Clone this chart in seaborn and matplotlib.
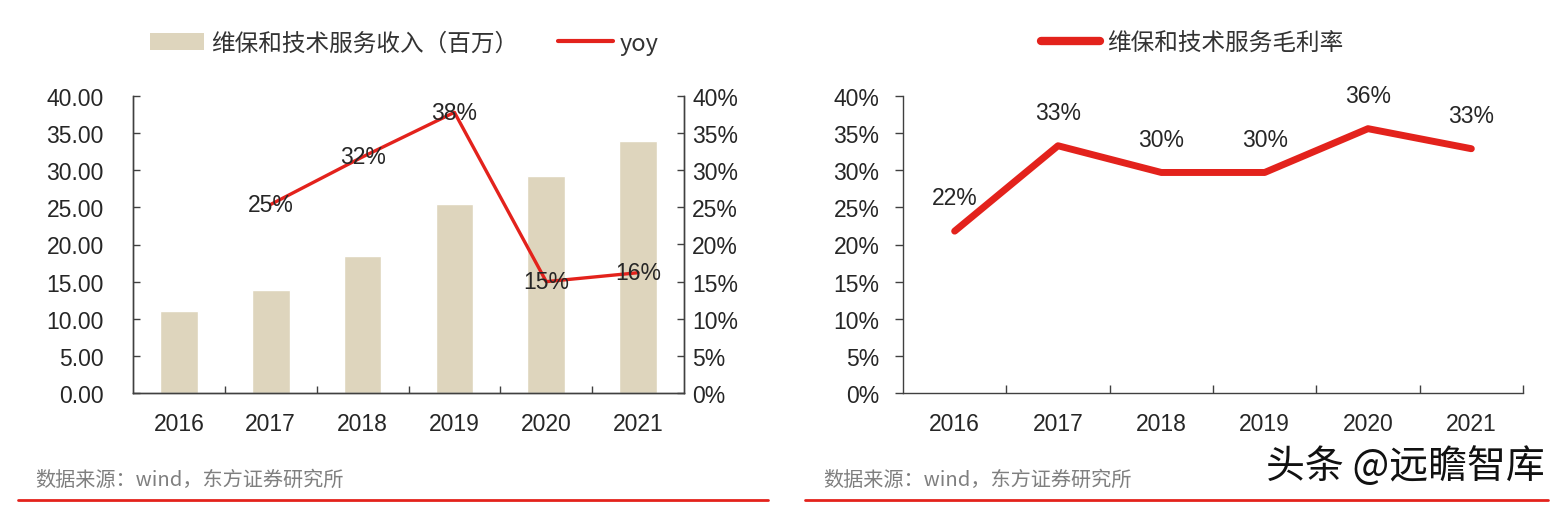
import numpy as np
import matplotlib
matplotlib.use("Agg")
import matplotlib.pyplot as plt
from matplotlib.lines import Line2D
from matplotlib.patches import Patch
from matplotlib.ticker import FixedLocator
import seaborn as sns

# ---------------- data ----------------
years = ["2016", "2017", "2018", "2019", "2020", "2021"]
revenue = [11.0, 13.9, 18.4, 25.5, 29.2, 34.0]          # 维保和技术服务收入（百万）
yoy_years = ["2017", "2018", "2019", "2020", "2021"]
yoy = [25.4, 31.8, 37.8, 15.0, 16.2]                    # yoy, %
margin = [21.8, 33.3, 29.7, 29.7, 35.6, 32.9]           # 维保和技术服务毛利率, %

left_yticks = [0, 5, 10, 15, 20, 25, 30, 35, 40]
pct_yticks = [0, 5, 10, 15, 20, 25, 30, 35, 40]

# ---------------- style ----------------
sns.set_style("white")
plt.rcParams["font.family"] = ["Liberation Sans", "Noto Sans CJK SC", "DejaVu Sans"]
CJK = ["Noto Sans CJK SC", "DejaVu Sans"]

BAR = "#DED5BD"
RED = "#E3221C"
TXT = "#262626"
SPINE = "#404040"
FS = 16.5

fig = plt.figure(figsize=(15.59, 5.10), dpi=100)
ax1 = fig.add_axes([133 / 1559, 1 - 394 / 510, (684 - 133) / 1559, (394 - 97) / 510])
ax3 = fig.add_axes([903 / 1559, 1 - 394 / 510, (1523 - 903) / 1559, (394 - 97) / 510])

# ---------------- left chart ----------------
sns.barplot(x=years, y=revenue, color=BAR, saturation=1, width=0.41, ax=ax1, zorder=2)
ax2 = ax1.twinx()
yoy_pos = [years.index(y) for y in yoy_years]
sns.lineplot(x=yoy_pos, y=yoy, color=RED, linewidth=2.4, ax=ax2, zorder=3)
for xp, v in zip(yoy_pos, yoy):
    ax2.text(xp, v, f"{v:.0f}%", ha="center", va="center", fontsize=FS, color=TXT, zorder=4)

ax1.set_xlim(-0.5, 5.5)
ax1.set_ylim(0, 40)
ax2.set_ylim(0, 40)
ax1.set_yticks(left_yticks)
ax1.set_yticklabels([f"{v:.2f}" for v in left_yticks])
ax2.set_yticks(pct_yticks)
ax2.set_yticklabels([f"{v}%" for v in pct_yticks])
ax1.set_xlabel("")
ax1.set_ylabel("")
ax2.set_ylabel("")

for a in (ax1, ax2):
    for s in a.spines.values():
        s.set_color(SPINE)
        s.set_linewidth(1.0)
    a.spines["top"].set_visible(False)
ax1.tick_params(axis="y", direction="in", length=5, width=1, color=SPINE, pad=21,
                labelsize=FS, labelcolor=TXT, left=True)
ax2.tick_params(axis="y", direction="in", length=5, width=1, color=SPINE, pad=6,
                labelsize=FS, labelcolor=TXT, right=True)
ax1.tick_params(axis="x", which="major", length=0, pad=14, labelsize=FS, labelcolor=TXT)
ax1.xaxis.set_minor_locator(FixedLocator([0.5, 1.5, 2.5, 3.5, 4.5]))
ax1.tick_params(axis="x", which="minor", direction="in", length=5, width=1, color=SPINE, bottom=True)

# ---------------- right chart ----------------
mpos = list(range(len(years)))
sns.lineplot(x=mpos, y=margin, color=RED, linewidth=5, ax=ax3)
for xp, v in zip(mpos, margin):
    ax3.annotate(f"{v:.0f}%", (xp, v), xytext=(0, 24), textcoords="offset points",
                 ha="center", va="center", fontsize=FS, color=TXT)
ax3.set_xlim(-0.5, 5.5)
ax3.set_ylim(0, 40)
ax3.set_xticks(mpos)
ax3.set_xticklabels(years)
ax3.set_yticks(pct_yticks)
ax3.set_yticklabels([f"{v}%" for v in pct_yticks])
for s in ("top", "right"):
    ax3.spines[s].set_visible(False)
for s in ("left", "bottom"):
    ax3.spines[s].set_color(SPINE)
    ax3.spines[s].set_linewidth(1.0)
ax3.tick_params(axis="y", direction="out", length=6, width=1, color=SPINE, pad=11,
                labelsize=FS, labelcolor=TXT, left=True)
ax3.tick_params(axis="x", which="major", length=0, pad=14, labelsize=FS, labelcolor=TXT)
ax3.xaxis.set_minor_locator(FixedLocator([0.5, 1.5, 2.5, 3.5, 4.5, 5.5]))
ax3.tick_params(axis="x", which="minor", direction="in", length=6, width=1, color=SPINE, bottom=True)
ax3.set_xlabel("")
ax3.set_ylabel("")

# ---------------- legends ----------------
h1 = [Patch(facecolor=BAR, edgecolor="none"), Line2D([], [], color=RED, linewidth=3)]
leg1 = fig.legend(h1, ["维保和技术服务收入（百万）", "yoy"], loc="center",
                  bbox_to_anchor=(404 / 1559, 1 - 44 / 510), ncol=2, frameon=False,
                  handlelength=2.3, handleheight=0.7, handletextpad=0.3, columnspacing=1.7,
                  prop={"family": CJK, "size": 17})
for t in leg1.get_texts():
    t.set_color("#333333")
h2 = [Line2D([], [], color=RED, linewidth=6, solid_capstyle="round")]
leg2 = fig.legend(h2, ["维保和技术服务毛利率"], loc="center",
                  bbox_to_anchor=(1192 / 1559, 1 - 44 / 510), frameon=False,
                  handlelength=2.5, handletextpad=0.3, prop={"family": CJK, "size": 17})
for t in leg2.get_texts():
    t.set_color("#333333")

# ---------------- footer ----------------
fig.text(35 / 1559, 1 - 480 / 510, "数据来源：wind，东方证券研究所", ha="left", va="center",
         fontsize=14.5, color="#7F7F7F", family=CJK)
fig.text(823 / 1559, 1 - 480 / 510, "数据来源：wind，东方证券研究所", ha="left", va="center",
         fontsize=14.5, color="#7F7F7F", family=CJK)
fig.add_artist(Line2D([18 / 1559, 768 / 1559], [1 - 501 / 510, 1 - 501 / 510], color=RED, linewidth=2))
fig.add_artist(Line2D([805 / 1559, 1548 / 1559], [1 - 501 / 510, 1 - 501 / 510], color=RED, linewidth=2))
fig.text(1545 / 1559, 1 - 467 / 510, "头条 @远瞻智库", ha="right", va="center",
         fontsize=28, color="#111111", family=CJK)

fig.savefig("out.png", dpi=100)
